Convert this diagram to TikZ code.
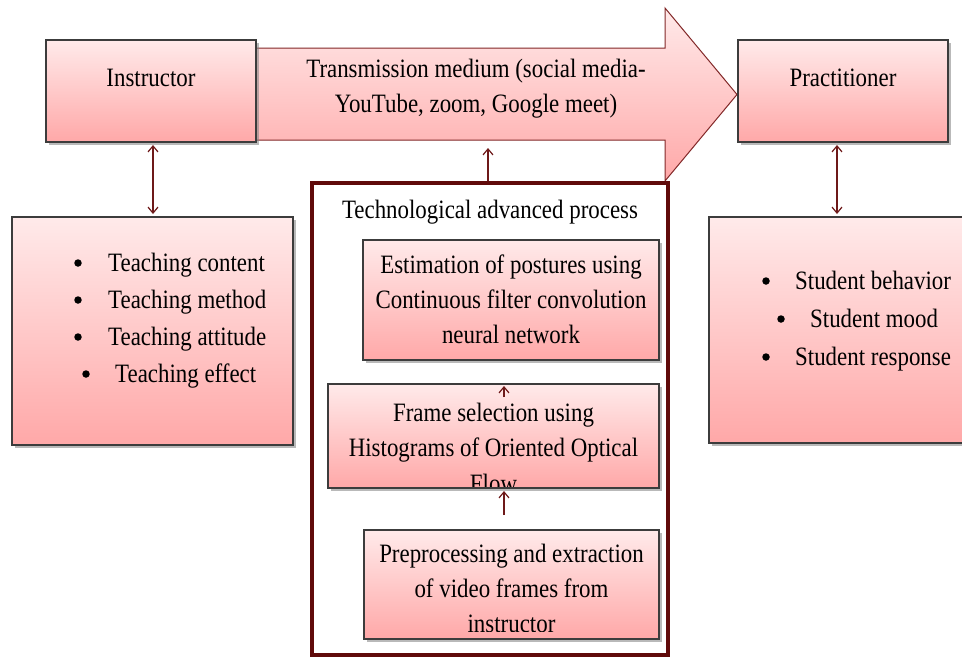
\documentclass[tikz,border=0pt]{standalone}
\usepackage{fontspec}
\setmainfont{Liberation Serif}[FakeStretch=0.864]
\usetikzlibrary{arrows.meta,shadows,calc}
\definecolor{pinkT}{RGB}{255,234,234}
\definecolor{pinkB}{RGB}{255,168,168}
\definecolor{boxline}{RGB}{60,60,60}
\definecolor{arrline}{RGB}{130,40,40}
\definecolor{connc}{RGB}{110,25,25}
\definecolor{techc}{RGB}{96,10,10}
\newcommand{\fsz}{\fontsize{26.5}{35}\selectfont}
\tikzset{
  pinkbox/.style={draw=boxline, line width=1.1pt, top color=pinkT, bottom color=pinkB,
    inner sep=0pt, outer sep=0pt,
    drop shadow={shadow xshift=3pt, shadow yshift=-3pt, opacity=0.55, fill=gray}},
  techbox/.style={draw=techc, line width=3.5pt, fill=white, inner sep=0pt, outer sep=0pt},
  txt/.style={anchor=base, inner sep=0pt, font=\fsz},
  ltxt/.style={anchor=base west, inner sep=0pt, font=\fsz},
  bul/.style={circle, fill=black, minimum size=7.5pt, inner sep=0pt},
  conn/.style={draw=connc, line width=1.2pt},
  bt/.tip={Straight Barb[length=6pt,width=10pt]}
}
\begin{document}
\begin{tikzpicture}[x=1pt,y=-1pt]
\useasboundingbox (0,0) rectangle (962,657);

% transmission arrow
\shade[top color=pinkT, bottom color=pinkB, draw=arrline, line width=1pt]
  (256,48) -- (665,48) -- (665,8) -- (737,94.5) -- (665,181) -- (665,140) -- (256,140) -- cycle;
\coordinate (arrB) at (488,140);
\node[txt] (tm1) at (476,77) {Transmission medium (social media-};
\node[txt] (tm2) at (476,112) {YouTube, zoom, Google meet)};

% top boxes
\node[pinkbox, minimum width=210, minimum height=102] (instr) at (151,91) {};
\node[txt] (instrT) at (151,86) {Instructor};
\node[pinkbox, minimum width=210, minimum height=102] (prac) at (843,91) {};
\node[txt] (pracT) at (843,86) {Practitioner};

% left box
\node[pinkbox, minimum width=281, minimum height=228] (teach) at (152.5,331) {};
\node[bul] (b1) at (78,263) {};
\node[ltxt] (t1) at (108,271) {Teaching content};
\node[bul] (b2) at (78,300) {};
\node[ltxt] (t2) at (108,308) {Teaching method};
\node[bul] (b3) at (78,337) {};
\node[ltxt] (t3) at (108,345) {Teaching attitude};
\node[bul] (b4) at (86,374) {};
\node[ltxt] (t4) at (115,382) {Teaching effect};

% right box
\node[pinkbox, minimum width=281, minimum height=226] (stud) at (849.5,330) {};
\node[bul] (s1b) at (766,281) {};
\node[ltxt] (s1) at (795,289) {Student behavior};
\node[bul] (s2b) at (781,319) {};
\node[ltxt] (s2) at (810,327) {Student mood};
\node[bul] (s3b) at (766,357) {};
\node[ltxt] (s3) at (795,365) {Student response};

% technological box
\node[techbox, minimum width=356, minimum height=472,
  drop shadow={shadow xshift=2pt, shadow yshift=-2pt, opacity=0.4, fill=gray}] (tech) at (490,419) {};
\node[txt] (techT) at (490,218) {Technological advanced process};

\node[pinkbox, minimum width=296, minimum height=120] (est) at (511,300) {};
\node[txt] (e1) at (511,273) {Estimation of postures using};
\node[txt] (e2) at (511,308) {Continuous filter convolution};
\node[txt] (e3) at (511,343) {neural network};

\node[pinkbox, minimum width=331, minimum height=104] (frame) at (493.5,436) {};
\begin{scope}
  \clip ($(frame.north west)+(1,1)$) rectangle ($(frame.south east)+(-1,-1.5)$);
  \node[txt] (f1) at (493.5,421) {Frame selection using};
  \node[txt] (f2) at (493.5,456) {Histograms of Oriented Optical};
  \node[txt] (f3) at (493.5,492) {Flow};
\end{scope}

\node[pinkbox, minimum width=295, minimum height=109] (pre) at (511.5,584.5) {};
\begin{scope}
  \clip ($(pre.north west)+(1,1)$) rectangle ($(pre.south east)+(-1,-8)$);
  \node[txt] (p1) at (511.5,562) {Preprocessing and extraction};
  \node[txt] (p2) at (511.5,597) {of video frames from};
  \node[txt] (p3) at (511.5,632) {instructor};
\end{scope}

% connectors
\coordinate (ia) at ($(instr.south)+(2,0)$);
\draw[conn, {bt}-{bt}, shorten <=3pt, shorten >=3pt] (ia) -- (ia |- teach.north);
\coordinate (pa) at ($(prac.south)+(-6,0)$);
\draw[conn, {bt}-{bt}, shorten <=3pt, shorten >=3pt] (pa) -- (pa |- stud.north);
\draw[conn, -{bt}, shorten <=2pt, shorten >=8pt] (arrB |- tech.north) -- (arrB);
\draw[conn, -{bt}] ($(frame.north)+(10.5,13)$) -- ($(frame.north)+(10.5,2)$);
\draw[conn, -{bt}] ($(pre.north)+(-7.5,-15)$) -- ($(frame.south)+(10.5,3)$);
\end{tikzpicture}
\end{document}
